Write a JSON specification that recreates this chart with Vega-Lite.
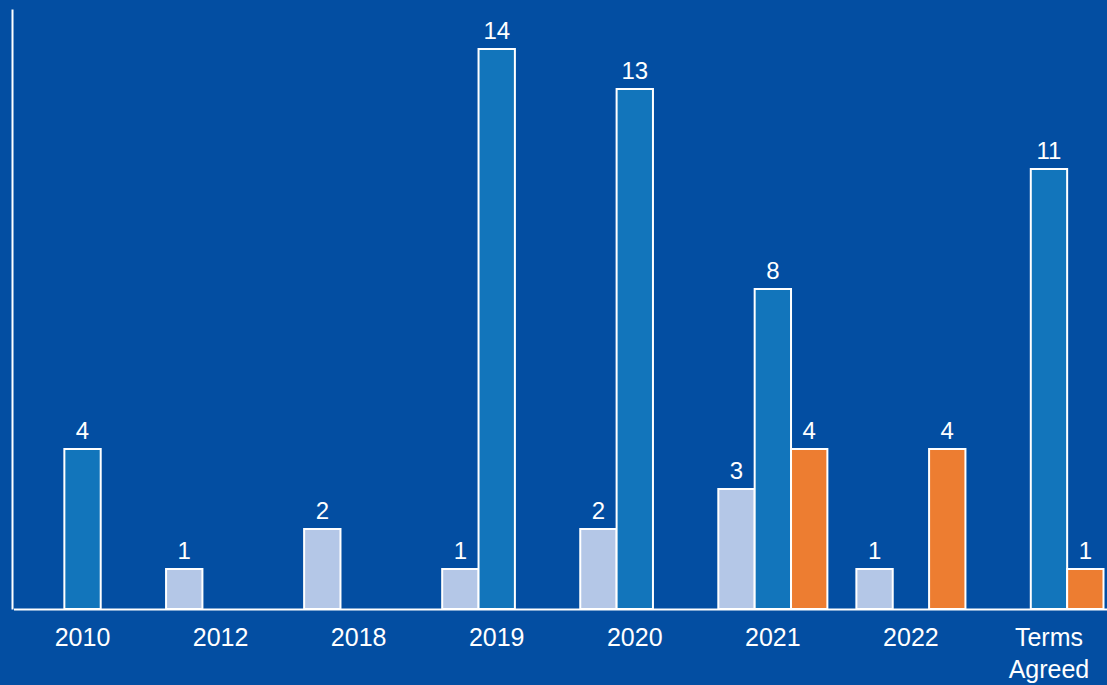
{
  "$schema": "https://vega.github.io/schema/vega-lite/v6.json",
  "width": 1095,
  "height": 600,
  "autosize": {"type": "none"},
  "padding": {"left": 12, "top": 9, "right": 0, "bottom": 76},
  "background": "#034EA2",
  "config": {
    "view": {"stroke": null},
    "font": "Liberation Sans"
  },
  "data": {
    "values": [
      {"category": "2010", "series": "S2", "value": 4},
      {"category": "2012", "series": "S1", "value": 1},
      {"category": "2018", "series": "S1", "value": 2},
      {"category": "2019", "series": "S1", "value": 1},
      {"category": "2019", "series": "S2", "value": 14},
      {"category": "2020", "series": "S1", "value": 2},
      {"category": "2020", "series": "S2", "value": 13},
      {"category": "2021", "series": "S1", "value": 3},
      {"category": "2021", "series": "S2", "value": 8},
      {"category": "2021", "series": "S3", "value": 4},
      {"category": "2022", "series": "S1", "value": 1},
      {"category": "2022", "series": "S3", "value": 4},
      {"category": "Terms Agreed", "series": "S2", "value": 11},
      {"category": "Terms Agreed", "series": "S3", "value": 1}
    ]
  },
  "encoding": {
    "x": {
      "field": "category",
      "type": "nominal",
      "sort": ["2010", "2012", "2018", "2019", "2020", "2021", "2022", "Terms Agreed"],
      "scale": {"range": [1.5, 1106], "paddingInner": 0.21, "paddingOuter": 0.105},
      "axis": {
        "title": null,
        "labelAngle": 0,
        "labelColor": "white",
        "labelFontSize": 25,
        "labelPadding": 16,
        "labelLineHeight": 32,
        "labelExpr": "split(datum.label, ' ')",
        "ticks": false,
        "domainColor": "white",
        "domainWidth": 2,
        "grid": false
      }
    },
    "xOffset": {
      "field": "series",
      "type": "nominal",
      "scale": {"domain": ["S1", "S2", "S3"], "paddingInner": 0, "paddingOuter": 0}
    },
    "y": {
      "field": "value",
      "type": "quantitative",
      "scale": {"domain": [0, 15], "nice": false},
      "axis": {
        "title": null,
        "labels": false,
        "ticks": false,
        "grid": false,
        "domainColor": "white",
        "domainWidth": 2
      }
    }
  },
  "layer": [
    {
      "mark": {"type": "bar", "stroke": "white", "strokeWidth": 2},
      "encoding": {
        "color": {
          "field": "series",
          "type": "nominal",
          "scale": {"domain": ["S1", "S2", "S3"], "range": ["#B4C7E7", "#1275BB", "#ED7D31"]},
          "legend": null
        }
      }
    },
    {
      "mark": {"type": "text", "color": "white", "fontSize": 24, "baseline": "alphabetic", "dy": -10},
      "encoding": {"text": {"field": "value", "type": "quantitative"}}
    }
  ]
}
